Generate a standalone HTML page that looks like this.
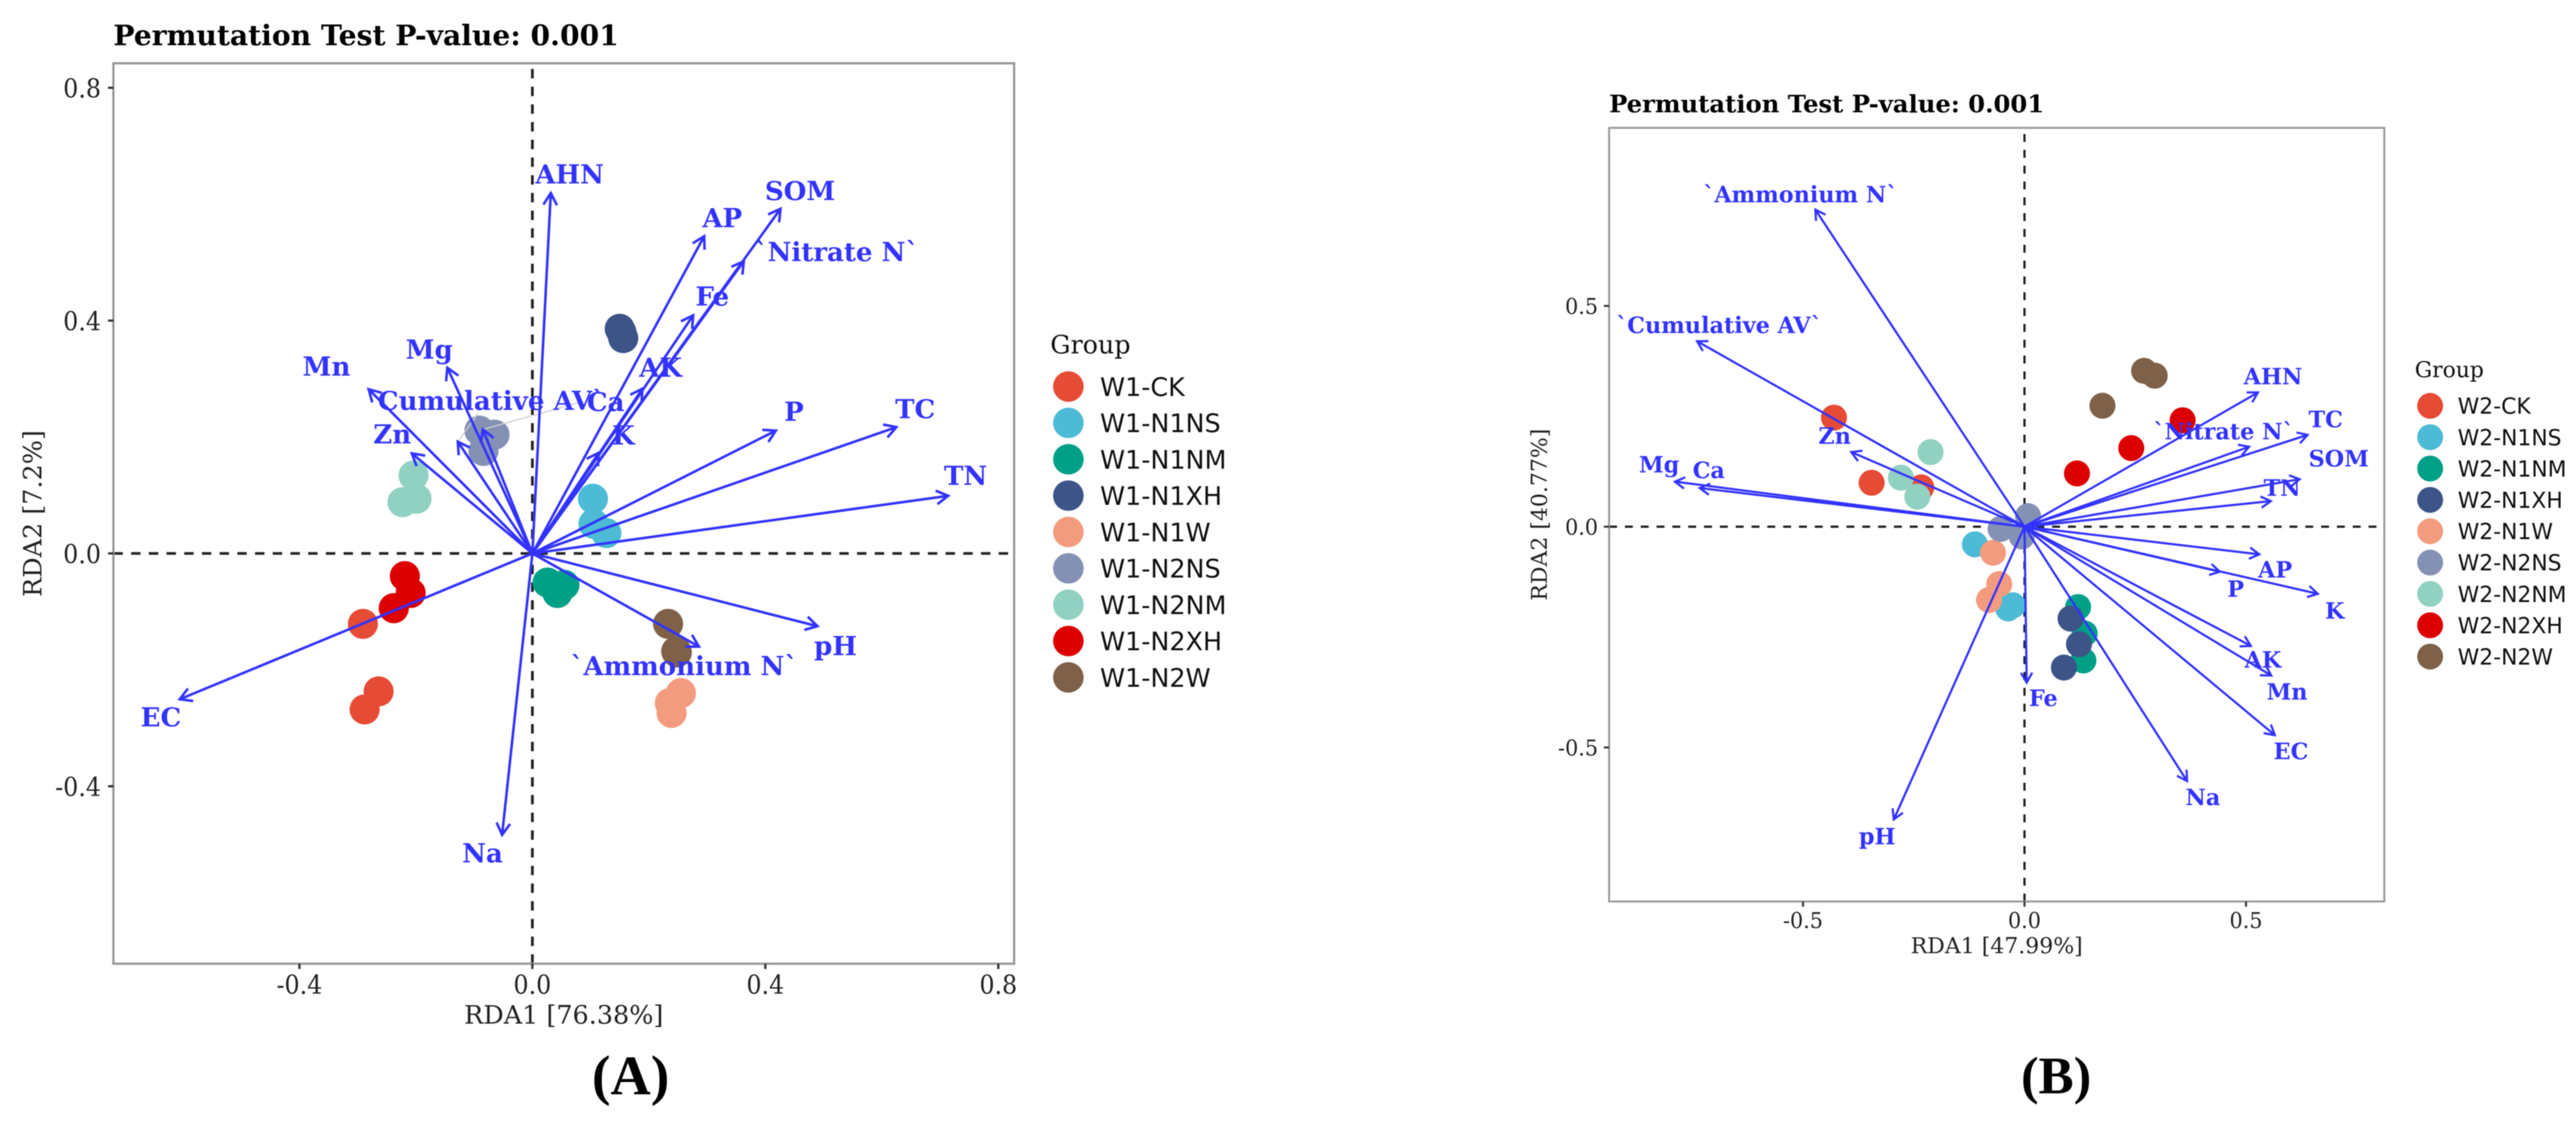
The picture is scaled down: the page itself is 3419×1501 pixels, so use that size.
<!DOCTYPE html>
<html lang="en">
<head>
<meta charset="utf-8">
<title>RDA biplots W1 and W2</title>
<style>
html,body{margin:0;padding:0;background:#fff;width:3419px;height:1501px;overflow:hidden}
svg{display:block;filter:blur(0.6px)}
text{font-family:"DejaVu Serif","Liberation Serif",serif}
.lg{font-family:"DejaVu Sans","Liberation Sans",sans-serif}
.cap{font-family:"Liberation Serif",serif;font-weight:bold}
</style>
</head>
<body>
<svg id="fig" xmlns="http://www.w3.org/2000/svg" width="3419" height="1501" viewBox="0 0 3419 1501">
<rect x="0" y="0" width="3419" height="1501" fill="#fff"/>
<text class="cap" x="837" y="1452" font-size="74" text-anchor="middle" fill="#000">(A)</text>
<text class="cap" x="2729" y="1451" font-size="70" text-anchor="middle" fill="#000">(B)</text>
</svg>
<script>
// ---------- Panel A data ----------
const A_GROUPS = ['W1-CK','W1-N1NS','W1-N1NM','W1-N1XH','W1-N1W','W1-N2NS','W1-N2NM','W1-N2XH','W1-N2W'];
const A_POINT_X = [
  [-0.291,-0.264,-0.288],
  [0.104,0.105,0.127],
  [0.026,0.055,0.043],
  [0.150,0.156,0.153],
  [0.255,0.236,0.239],
  [-0.091,-0.065,-0.084],
  [-0.204,-0.223,-0.199],
  [-0.219,-0.209,-0.238],
  [0.233,0.248,0.247]
];
const A_POINT_Y = [
  [-0.121,-0.237,-0.268],
  [0.094,0.051,0.035],
  [-0.050,-0.054,-0.068],
  [0.386,0.370,0.380],
  [-0.240,-0.257,-0.274],
  [0.211,0.204,0.176],
  [0.134,0.088,0.094],
  [-0.039,-0.068,-0.094],
  [-0.121,-0.170,-0.168]
];
const A_VARS = ['AHN','AP','SOM','`Nitrate N`','Fe','AK','K','P','TC','TN','Mg','Mn','Ca','`Cumulative AV`','Zn','pH','`Ammonium N`','EC','Na'];
const A_VAR_X = [0.0316,0.295,0.426,0.363,0.276,0.189,0.114,0.418,0.625,0.714,-0.146,-0.281,-0.085,-0.128,-0.207,0.4895,0.286,-0.6055,-0.052];
const A_VAR_Y = [0.619,0.545,0.592,0.502,0.409,0.283,0.173,0.211,0.217,0.099,0.319,0.282,0.213,0.192,0.172,-0.125,-0.160,-0.2505,-0.4835];
const A_X_TICKS = [-0.4,0.0,0.4,0.8];
const A_Y_TICKS = [-0.4,0.0,0.4,0.8];

// ---------- Panel B data ----------
const B_GROUPS = ['W2-CK','W2-N1NS','W2-N1NM','W2-N1XH','W2-N1W','W2-N2NS','W2-N2NM','W2-N2XH','W2-N2W'];
const B_POINT_X = [
  [-0.345,-0.233,-0.430],
  [-0.112,-0.037,-0.026],
  [0.121,0.136,0.133],
  [0.104,0.123,0.089],
  [-0.071,-0.057,-0.080],
  [0.008,-0.054,-0.006],
  [-0.212,-0.279,-0.242],
  [0.357,0.241,0.1185],
  [0.270,0.294,0.176]
];
const B_POINT_Y = [
  [0.0995,0.089,0.247],
  [-0.040,-0.185,-0.178],
  [-0.182,-0.242,-0.303],
  [-0.208,-0.266,-0.319],
  [-0.059,-0.130,-0.166],
  [0.024,-0.005,-0.022],
  [0.169,0.111,0.068],
  [0.241,0.178,0.1206],
  [0.353,0.342,0.274]
];
const B_VARS = ['`Ammonium N`','`Cumulative AV`','Zn','Mg','Ca','AHN','`Nitrate N`','TC','SOM','TN','AP','P','K','AK','Mn','EC','Na','Fe','pH'];
const B_VAR_X = [-0.472,-0.739,-0.391,-0.789,-0.733,0.527,0.507,0.639,0.621,0.556,0.530,0.441,0.662,0.511,0.557,0.565,0.367,0.005,-0.295];
const B_VAR_Y = [0.718,0.420,0.169,0.102,0.0875,0.304,0.181,0.208,0.1075,0.058,-0.0626,-0.102,-0.152,-0.270,-0.337,-0.472,-0.576,-0.353,-0.663];
const B_X_TICKS = [-0.5,0.0,0.5];
const B_Y_TICKS = [-0.5,0.0,0.5];

const PALETTE = ['#E64B35','#4DBBD5','#00A087','#3C5488','#F39B7F','#8491B4','#91D1C2','#DC0000','#7E6148'];
const BLUE = '#3333ff';
const NS = 'http://www.w3.org/2000/svg';
const fig = document.getElementById('fig');

function mk(parent, tag, attrs, txt) {
  const el = document.createElementNS(NS, tag);
  for (const k in attrs) el.setAttribute(k, attrs[k]);
  if (txt !== undefined) el.textContent = txt;
  parent.appendChild(el);
  return el;
}
function slug(s) { return s.replace(/[`]/g,'').trim().toLowerCase().replace(/[^a-z0-9]+/g,'-'); }

function drawPanel(p) {
  const sx = v => p.x0 + v * p.xScale;
  const sy = v => p.y0 - v * p.yScale;
  const root = mk(fig, 'g', {});
  
  

  // title
  const title = mk(root, 'text', {x:p.left, y:p.titleY, 'font-size':p.titleSize, 'font-weight':'bold', fill:'#000'}, 'Permutation Test P-value: 0.001');
  
  

  // panel frame background
  const bg = mk(root, 'rect', {x:p.left, y:p.top, width:p.right-p.left, height:p.bottom-p.top, fill:'#fff'});
  
  

  // zero lines
  const hz = mk(root, 'line', {x1:p.left, x2:p.right, y1:sy(0), y2:sy(0), stroke:'#222', 'stroke-width':p.dashW, 'stroke-dasharray':p.dash});
  
  
  const vt = mk(root, 'line', {x1:sx(0), x2:sx(0), y1:p.bottom, y2:p.top, stroke:'#222', 'stroke-width':p.dashW, 'stroke-dasharray':p.dash});
  
  

  // points
  p.groups.forEach((g, gi) => {
    const gg = mk(root, 'g', {fill:PALETTE[gi]});
    
    
    p.px[gi].forEach((vx, i) => {
      const c = mk(gg, 'circle', {cx:sx(vx), cy:sy(p.py[gi][i]), r:p.pointR});
      
      
    });
  });

  // leader segments
  Object.keys(p.leaders).forEach(name => {
    const i = p.vars.indexOf(name);
    const o = p.leaders[name];
    const l = mk(root, 'line', {x1:sx(p.vx[i]), y1:sy(p.vy[i]), x2:sx(p.vx[i])+o[0], y2:sy(p.vy[i])+o[1], stroke:'#cfcfcf', 'stroke-width':1.6});
    
    
  });

  // arrows
  p.vars.forEach((name, i) => {
    const tx = sx(p.vx[i]), ty = sy(p.vy[i]), ox = sx(0), oy = sy(0);
    const a = Math.atan2(ty - oy, tx - ox);
    const t = Math.PI / 6;
    const b1x = tx - p.headLen * Math.cos(a - t), b1y = ty - p.headLen * Math.sin(a - t);
    const b2x = tx - p.headLen * Math.cos(a + t), b2y = ty - p.headLen * Math.sin(a + t);
    const d = 'M' + ox + ' ' + oy + 'L' + tx + ' ' + ty + 'M' + b1x + ' ' + b1y + 'L' + tx + ' ' + ty + 'L' + b2x + ' ' + b2y;
    const ar = mk(root, 'path', {d:d, fill:'none', stroke:BLUE, 'stroke-width':p.arrowW});
    
    
  });

  // arrow labels
  p.vars.forEach((name, i) => {
    const n = p.nudge[name];
    const lb = mk(root, 'text', {x:sx(p.vx[i]) + n[0], y:sy(p.vy[i]) + n[1], 'font-size':p.labelSize, 'font-weight':'bold', fill:BLUE, 'text-anchor':'middle'}, name);
    
    
  });

  // frame
  const fr = mk(root, 'rect', {x:p.left, y:p.top, width:p.right-p.left, height:p.bottom-p.top, fill:'none', stroke:'#999', 'stroke-width':p.frameW});
  
  

  // x ticks
  p.xTicks.forEach(v => {
    const tk = mk(root, 'line', {x1:sx(v), x2:sx(v), y1:p.bottom, y2:p.bottom + p.tickLen, stroke:'#333', 'stroke-width':p.tickW});
    
    
    const tl = mk(root, 'text', {transform:'translate(' + sx(v) + ' ' + p.xTickY + ') scale(' + p.tickSx + ' 1)', 'font-size':p.tickSize, fill:'#222', 'text-anchor':'middle'}, v.toFixed(1));
    
    
  });
  // y ticks
  p.yTicks.forEach(v => {
    const tk = mk(root, 'line', {x1:p.left - p.tickLen, x2:p.left, y1:sy(v), y2:sy(v), stroke:'#333', 'stroke-width':p.tickW});
    
    
    const tl = mk(root, 'text', {transform:'translate(' + p.yTickX + ' ' + (sy(v) + p.tickSize * 0.365) + ') scale(' + p.tickSx + ' 1)', 'font-size':p.tickSize, fill:'#222', 'text-anchor':'end'}, v.toFixed(1));
    
    
  });

  // axis titles
  const xt = mk(root, 'text', {x:(p.left + p.right) / 2, y:p.xTitleY, 'font-size':p.axisSize, fill:'#222', 'text-anchor':'middle'}, p.xTitle);
  
  
  const yt = mk(root, 'text', {transform:'translate(' + p.yTitleX + ' ' + (p.top + p.bottom) / 2 + ') rotate(-90)', 'font-size':p.axisSize, fill:'#222', 'text-anchor':'middle'}, p.yTitle);
  
  

  // legend
  const lg = mk(root, 'g', {});
  
  
  const lt = mk(lg, 'text', {x:p.legTitleX, y:p.legTitleY, 'font-size':p.legSize, fill:'#111'}, 'Group');
  
  
  p.groups.forEach((g, gi) => {
    const e = mk(lg, 'g', {});
    
    
    const cy = p.legY + gi * p.legStep;
    const c = mk(e, 'circle', {cx:p.legKeyX, cy:cy, r:p.legR, fill:PALETTE[gi]});
    
    
    const t = mk(e, 'text', {class:'lg', x:p.legTextX, y:cy + p.legSize * 0.365, 'font-size':p.legSize, fill:'#111'}, g);
    
    
  });
}

drawPanel({
  id:'a', groups:A_GROUPS, px:A_POINT_X, py:A_POINT_Y, vars:A_VARS, vx:A_VAR_X, vy:A_VAR_Y, xTicks:A_X_TICKS, yTicks:A_Y_TICKS,
  left:150.5, right:1346, top:84, bottom:1279, x0:706.6, xScale:773, y0:734.5, yScale:772.5,
  titleY:60, titleSize:37.4, dash:'12.5 11', dashW:3.6, pointR:20, arrowW:3.4, headLen:18, labelSize:34.6, frameW:3,
  tickLen:7, tickW:3, tickSize:35, tickSx:0.9, xTickY:1319, yTickX:134,
  xTitle:'RDA1 [76.38%]', yTitle:'RDA2 [7.2%]', xTitleY:1358.5, yTitleX:55, axisSize:33.8,
  legTitleX:1394, legTitleY:469, legSize:33.7, legKeyX:1418, legTextX:1460, legY:513, legStep:48.25, legR:20.3,
  leaders:{'Ca':[132,-37],'`Cumulative AV`':[27,-38]},
  nudge:{'AHN':[25,-13],'AP':[24,-12],'SOM':[26,-11.5],'`Nitrate N`':[123,0],'Fe':[25.5,-13],'AK':[24,-16],'K':[32.6,-11],'P':[24,-13],'TC':[25,-12],'TN':[23,-14.5],'Mg':[-24,-12],'Mn':[-56,-18],'Ca':[163,-24.5],'`Cumulative AV`':[36,-42],'Zn':[-26,-13],'pH':[24,38.6],'`Ammonium N`':[-20,38],'EC':[-25,36],'Na':[-26,36.7]}
});

drawPanel({
  id:'b', groups:B_GROUPS, px:B_POINT_X, py:B_POINT_Y, vars:B_VARS, vx:B_VAR_X, vy:B_VAR_Y, xTicks:B_X_TICKS, yTicks:B_Y_TICKS,
  left:2135.7, right:3164.6, top:169.7, bottom:1196.4, x0:2687, xScale:588, y0:699, yScale:586,
  titleY:149, titleSize:32.2, dash:'10.5 10.5', dashW:3, pointR:17.3, arrowW:2.9, headLen:15, labelSize:29.6, frameW:2.6,
  tickLen:7, tickW:2.6, tickSize:29, tickSx:0.95, xTickY:1231.5, yTickX:2121,
  xTitle:'RDA1 [47.99%]', yTitle:'RDA2 [40.77%]', xTitleY:1265, yTitleX:2053, axisSize:29.2,
  legTitleX:3205, legTitleY:500.4, legSize:29, legKeyX:3225.4, legTextX:3262, legY:538.6, legStep:41.6, legR:17.2,
  leaders:{},
  nudge:{'`Ammonium N`':[-20,-10],'`Cumulative AV`':[29,-11],'Zn':[-22,-11],'Mg':[-21,-12],'Ca':[12,-13],'AHN':[20,-11],'`Nitrate N`':[-34,-10],'TC':[24,-10],'SOM':[52,-17],'TN':[15,-7],'AP':[21,31],'P':[21,33],'K':[22.5,33],'AK':[16,29],'Mn':[21,32],'EC':[21.5,32],'Na':[21,32],'Fe':[22,31],'pH':[-22,33]}
});
</script>
</body>
</html>
